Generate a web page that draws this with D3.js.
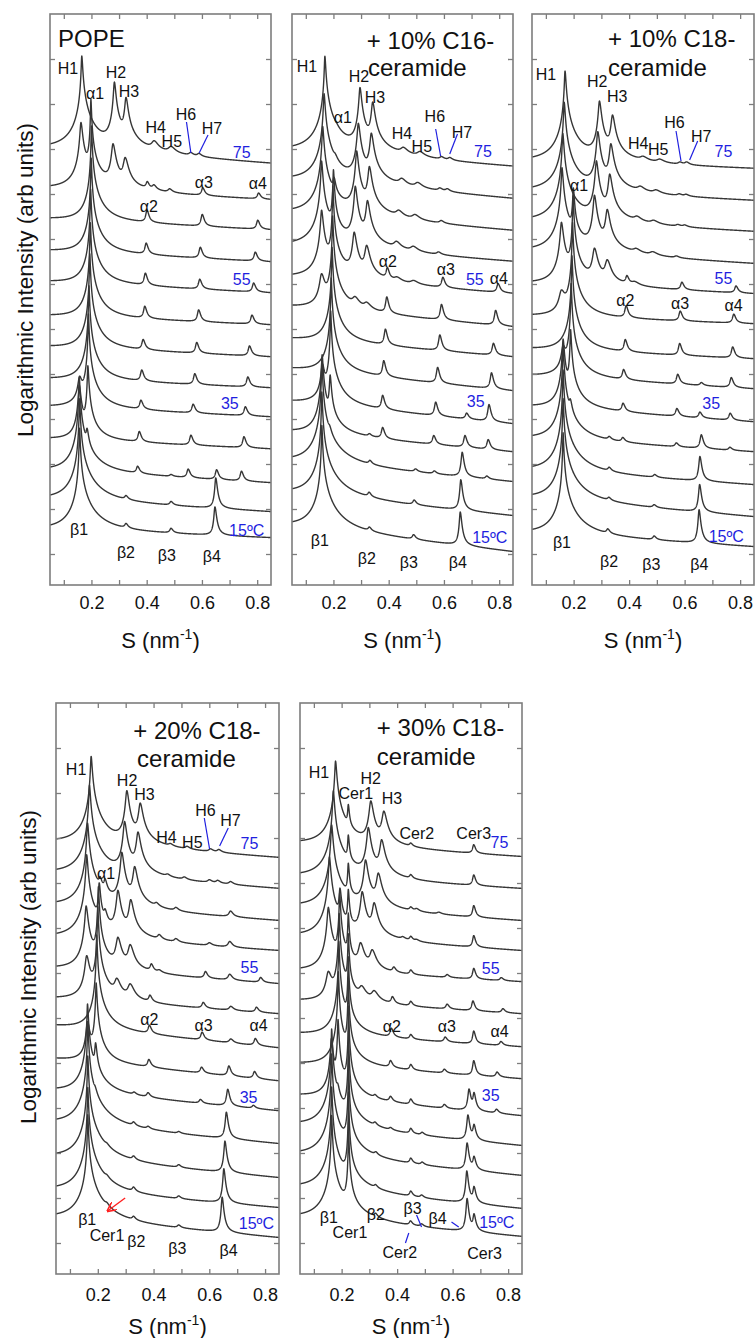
<!DOCTYPE html>
<html>
<head>
<meta charset="utf-8">
<script src="https://cdn.jsdelivr.net/npm/d3@7"></script>
<style>
  body { margin: 0; background: #fff; }
  svg text { font-family: "Liberation Sans", Arial, sans-serif; }
</style>
</head>
<body>
<svg id="fig" width="755" height="1338"></svg>
<script>
"use strict";

// ---- data ----
const temps = [75, 70, 65, 60, 55, 50, 45, 40, 35, 30, 25, 20, 15];
const sTicks = [0.1, 0.2, 0.3, 0.4, 0.5, 0.6, 0.7, 0.8];
const sTickLabels = [0.2, 0.4, 0.6, 0.8];
const yTicks = [3.1, 7.6, 12.1, 16.6, 21.1, 25.6, 30.1, 34.6, 39.1, 43.6, 48.1, 52.6];

// half widths (nm^-1) of each peak family
const peakWidths = {H: 0.012, a1: 0.007, a: 0.0055, b1: 0.009, b: 0.0055, c1: 0.0045, c: 0.005, m: 0.007};

// rows: [temperature, log level at S=0.05, log level at S=0.85, peaks [family, S, height]]
const popeRows = [
  [75, 43.5, 42.1, [["H",0.165,9.6],["H",0.283,7.2],["H",0.325,5.7],["H",0.427,1.2],["H",0.488,0.8],["m",0.559,0.35],["m",0.589,0.35]]],
  [70, 39.6, 38.5, [["H",0.162,6.8],["a1",0.198,9.2],["H",0.278,4.8],["H",0.322,3.4],["a",0.402,0.9],["m",0.426,0.6],["m",0.483,0.4],["a",0.603,0.8],["a",0.805,0.6]]],
  [65, 36.6, 35.5, [["a1",0.2,9.5],["a",0.401,1.3],["a",0.601,1.2],["a",0.802,0.9]]],
  [60, 33.4, 32.3, [["a1",0.199,9.5],["a",0.398,1.2],["a",0.594,1.1],["a",0.793,0.9]]],
  [55, 30.3, 29.2, [["a1",0.197,9.5],["a",0.395,1.3],["a",0.592,1.0],["a",0.787,0.9]]],
  [50, 26.9, 26.0, [["a1",0.196,9.5],["a",0.393,1.3],["a",0.588,1.2],["a",0.781,0.9]]],
  [45, 23.8, 22.8, [["a1",0.194,9.5],["a",0.387,1.1],["a",0.581,1.1],["a",0.772,1.0]]],
  [40, 20.6, 19.7, [["a1",0.191,9.5],["a",0.382,1.2],["a",0.574,1.1],["a",0.766,1.0]]],
  [35, 17.8, 16.8, [["b1",0.157,3.0],["a1",0.189,9.5],["a",0.379,1.0],["a",0.568,0.9],["a",0.757,0.9]]],
  [30, 14.6, 13.6, [["b1",0.156,5.5],["a1",0.187,7.5],["a",0.373,1.1],["a",0.56,1.0],["a",0.752,1.1]]],
  [25, 11.4, 10.2, [["b1",0.156,9.5],["a1",0.184,4.0],["a",0.367,0.8],["b",0.488,0.2],["a",0.55,0.9],["b",0.653,1.0],["a",0.743,1.0]]],
  [20, 8.5, 7.3, [["b1",0.157,10.3],["b",0.325,0.5],["b",0.488,0.4],["b",0.65,3.1]]],
  [15, 5.5, 4.7, [["b1",0.157,10.3],["b",0.325,0.6],["b",0.488,0.5],["b",0.647,2.9]]]
];

const c16Rows = [
  [75, 43.3, 41.8, [["H",0.169,9.8],["m",0.209,1.0],["H",0.296,6.9],["H",0.342,5.5],["H",0.453,0.8],["H",0.513,0.6],["m",0.591,0.3],["m",0.621,0.3]]],
  [70, 40.4, 38.6, [["H",0.166,9.0],["m",0.206,1.5],["H",0.29,6.3],["H",0.337,5.4],["H",0.447,0.8],["H",0.505,0.6],["m",0.585,0.3],["m",0.612,0.3]]],
  [65, 37.1, 35.4, [["H",0.161,9.0],["a1",0.202,3.5],["H",0.284,6.8],["H",0.33,5.3],["H",0.436,0.8],["H",0.495,0.6],["m",0.59,0.3]]],
  [60, 33.8, 32.3, [["H",0.157,8.8],["a1",0.2,8.0],["H",0.279,6.5],["H",0.323,5.1],["H",0.428,0.9],["H",0.489,0.6],["m",0.58,0.3]]],
  [55, 30.7, 29.1, [["H",0.157,7.0],["a1",0.198,9.5],["H",0.275,5.0],["H",0.32,3.7],["a",0.395,1.5],["H",0.43,0.5],["H",0.49,0.4],["a",0.596,1.1],["a",0.796,0.9]]],
  [50, 27.8, 25.8, [["H",0.157,3.5],["a1",0.197,9.5],["H",0.278,1.2],["H",0.32,0.8],["a",0.393,1.8],["a",0.591,1.6],["a",0.787,1.5]]],
  [45, 24.6, 22.8, [["a1",0.195,9.5],["a",0.388,1.7],["a",0.585,1.6],["a",0.779,1.2]]],
  [40, 21.6, 19.4, [["a1",0.192,9.5],["a",0.382,1.7],["a",0.577,1.6],["a",0.772,1.6]]],
  [35, 18.3, 16.1, [["b1",0.16,4.0],["a1",0.19,9.5],["a",0.378,1.5],["a",0.57,1.4],["b",0.682,0.6],["a",0.763,1.7]]],
  [30, 15.3, 13.3, [["b1",0.159,8.0],["a1",0.188,6.0],["b",0.33,0.3],["a",0.378,1.2],["a",0.563,0.9],["b",0.676,1.2],["a",0.76,1.0]]],
  [25, 12.3, 10.3, [["b1",0.158,10.5],["a1",0.186,2.5],["b",0.332,0.5],["b",0.497,0.3],["a",0.565,0.3],["b",0.666,2.5],["a",0.755,0.3]]],
  [20, 9.1, 6.9, [["b1",0.158,10.5],["b",0.329,0.6],["b",0.492,0.5],["b",0.661,3.1]]],
  [15, 5.8, 3.3, [["b1",0.158,10.5],["b",0.33,0.5],["b",0.49,0.5],["b",0.659,3.4]]]
];

const c18Rows = [
  [75, 42.3, 41.6, [["H",0.169,9.2],["H",0.293,6.3],["H",0.34,4.9],["H",0.45,0.5],["H",0.51,0.4],["m",0.583,0.25],["m",0.607,0.3]]],
  [70, 39.3, 38.4, [["H",0.166,9.1],["H",0.287,6.3],["H",0.334,5.1],["H",0.44,0.6],["H",0.497,0.4],["m",0.58,0.2],["m",0.605,0.2]]],
  [65, 36.3, 35.3, [["H",0.161,9.0],["H",0.282,6.4],["H",0.33,5.1],["H",0.428,0.6],["H",0.488,0.4],["m",0.575,0.2],["m",0.6,0.2]]],
  [60, 33.3, 32.1, [["H",0.158,8.6],["a1",0.199,6.6],["H",0.275,6.0],["H",0.321,4.6],["H",0.425,0.5],["H",0.485,0.4],["m",0.57,0.2]]],
  [55, 30.1, 29.1, [["H",0.156,6.3],["a1",0.198,9.0],["H",0.275,3.8],["H",0.321,2.6],["a",0.392,1.0],["H",0.42,0.4],["a",0.59,0.8],["a",0.785,0.7]]],
  [50, 26.9, 26.1, [["H",0.156,2.5],["a1",0.196,9.5],["a",0.389,1.3],["a",0.584,1.0],["a",0.777,0.9]]],
  [45, 23.6, 22.6, [["a1",0.194,9.5],["a",0.386,1.3],["a",0.582,1.2],["a",0.773,1.1]]],
  [40, 20.9, 19.6, [["b1",0.162,3.0],["a1",0.191,9.5],["a",0.38,1.1],["a",0.575,1.0],["b",0.66,0.3],["a",0.768,1.0]]],
  [35, 17.8, 16.3, [["b1",0.162,7.0],["a1",0.189,8.0],["a",0.378,0.9],["a",0.572,0.8],["b",0.655,0.6],["a",0.764,0.7]]],
  [30, 14.6, 13.3, [["b1",0.162,9.5],["a1",0.188,3.5],["b",0.328,0.4],["a",0.377,0.5],["a",0.57,0.4],["b",0.66,1.4],["a",0.763,0.3]]],
  [25, 11.4, 10.0, [["b1",0.162,10.3],["b",0.328,0.5],["b",0.492,0.3],["b",0.655,2.5]]],
  [20, 8.6, 6.8, [["b1",0.162,10.3],["b",0.327,0.4],["b",0.49,0.3],["b",0.654,2.8]]],
  [15, 5.1, 3.8, [["b1",0.162,10.3],["b",0.323,0.6],["b",0.49,0.4],["b",0.652,3.4]]]
];

const c18x20Rows = [
  [75, 43.1, 41.6, [["H",0.176,8.9],["H",0.304,5.7],["H",0.352,4.5],["m",0.46,0.3],["m",0.52,0.3],["m",0.604,0.3],["m",0.634,0.3]]],
  [70, 40.0, 38.5, [["H",0.17,9.1],["H",0.296,5.7],["H",0.344,4.7],["m",0.45,0.3],["m",0.51,0.3],["m",0.6,0.3],["m",0.63,0.3],["m",0.676,0.3]]],
  [65, 36.8, 35.3, [["H",0.163,8.5],["a1",0.208,2.5],["m",0.226,2.5],["H",0.286,5.8],["H",0.332,4.4],["m",0.41,0.5],["m",0.48,0.4],["m",0.676,0.6]]],
  [60, 33.6, 32.3, [["H",0.16,8.5],["a1",0.205,5.7],["m",0.226,2.5],["H",0.272,5.1],["H",0.318,4.2],["m",0.42,0.6],["m",0.48,0.4],["m",0.6,0.3],["m",0.673,0.6]]],
  [55, 30.5, 29.0, [["H",0.158,6.5],["a1",0.202,8.5],["H",0.272,3.5],["H",0.316,2.8],["a",0.392,0.9],["m",0.42,0.3],["a",0.586,0.7],["m",0.673,0.6],["a",0.784,0.5]]],
  [50, 27.5, 26.0, [["H",0.16,4.5],["a1",0.2,9.5],["H",0.268,2.2],["H",0.316,1.8],["a",0.387,0.8],["a",0.578,0.6],["m",0.677,0.4],["a",0.769,0.5]]],
  [45, 24.8, 22.6, [["a1",0.196,9.5],["a",0.385,0.9],["a",0.574,0.8],["m",0.677,0.4],["a",0.765,0.7]]],
  [40, 21.5, 19.3, [["b1",0.163,4.0],["a1",0.194,8.0],["a",0.383,0.8],["a",0.572,0.6],["b",0.67,1.0],["a",0.762,0.7]]],
  [35, 18.3, 16.3, [["b1",0.163,9.0],["a1",0.192,5.0],["b",0.33,0.3],["a",0.38,0.5],["a",0.568,0.4],["b",0.666,1.7],["a",0.758,0.3]]],
  [30, 15.0, 13.0, [["b1",0.164,10.5],["a1",0.19,2.5],["b",0.328,0.5],["a",0.38,0.3],["b",0.49,0.2],["b",0.661,2.7]]],
  [25, 11.6, 9.6, [["b1",0.164,10.5],["m",0.232,0.6],["b",0.328,0.5],["b",0.49,0.3],["b",0.656,3.2]]],
  [20, 8.3, 6.6, [["b1",0.164,10.6],["m",0.232,0.7],["b",0.328,0.6],["b",0.49,0.3],["b",0.652,3.5]]],
  [15, 5.5, 3.6, [["b1",0.164,10.7],["m",0.232,0.8],["b",0.328,0.5],["b",0.49,0.3],["b",0.646,3.6]]]
];

const c18x30Rows = [
  [75, 43.0, 41.7, [["H",0.178,8.5],["c1",0.224,4.0],["H",0.305,4.7],["H",0.352,3.7],["c",0.449,0.4],["c",0.676,0.9]]],
  [70, 39.7, 38.5, [["H",0.17,8.8],["c1",0.224,4.3],["H",0.296,5.3],["H",0.344,4.1],["c",0.449,0.5],["c",0.676,1.1]]],
  [65, 36.7, 35.3, [["H",0.164,8.4],["c1",0.224,4.6],["H",0.286,5.1],["H",0.332,3.8],["c",0.449,0.4],["m",0.47,0.3],["m",0.55,0.2],["c",0.676,1.2]]],
  [60, 33.7, 32.3, [["H",0.156,8.2],["a1",0.194,5.0],["c1",0.224,5.0],["H",0.274,4.9],["H",0.317,3.8],["m",0.42,0.3],["c",0.449,0.5],["m",0.47,0.2],["c",0.676,1.2]]],
  [55, 30.3, 29.2, [["H",0.152,6.5],["a1",0.193,8.0],["c1",0.224,6.0],["H",0.268,3.0],["H",0.31,2.3],["a",0.388,0.6],["c",0.449,0.5],["a",0.58,0.3],["c",0.676,1.1],["a",0.775,0.3]]],
  [50, 27.3, 26.0, [["H",0.152,3.0],["a1",0.191,9.0],["c1",0.224,7.0],["H",0.272,1.5],["H",0.317,1.2],["a",0.383,0.8],["c",0.449,0.5],["a",0.58,0.5],["c",0.673,1.0],["a",0.781,0.4]]],
  [45, 24.0, 22.7, [["a1",0.19,9.5],["c1",0.224,8.0],["a",0.379,1.0],["c",0.449,0.5],["a",0.573,0.5],["c",0.676,1.3],["a",0.774,0.4]]],
  [40, 21.0, 19.5, [["a1",0.188,9.5],["c1",0.224,9.0],["a",0.376,0.8],["c",0.449,0.6],["a",0.57,0.4],["c",0.676,1.5],["a",0.76,0.5]]],
  [35, 17.8, 15.8, [["b1",0.163,6.0],["a1",0.187,8.0],["c1",0.225,9.5],["b",0.32,0.4],["a",0.376,0.6],["c",0.449,0.6],["a",0.57,0.4],["b",0.659,2.2],["c",0.677,1.8],["a",0.758,0.4]]],
  [30, 14.8, 12.8, [["b1",0.164,10.0],["a1",0.186,3.5],["c1",0.225,10.0],["b",0.32,0.5],["a",0.376,0.3],["c",0.449,0.6],["b",0.49,0.3],["b",0.655,2.6],["c",0.677,1.6]]],
  [25, 11.8, 9.8, [["b1",0.164,10.5],["c1",0.225,10.2],["b",0.323,0.5],["c",0.449,0.6],["b",0.49,0.3],["b",0.652,2.8],["c",0.677,1.4]]],
  [20, 8.5, 6.5, [["b1",0.164,10.5],["c1",0.225,10.2],["b",0.322,0.5],["c",0.449,0.6],["b",0.488,0.3],["b",0.651,3.3],["c",0.677,1.7]]],
  [15, 5.5, 3.7, [["b1",0.164,10.6],["c1",0.225,10.2],["b",0.322,0.6],["c",0.448,0.5],["b",0.488,0.3],["b",0.652,3.4],["c",0.677,1.8]]]
];

// panel titles: [line, S, level]
const popeTitle = [["POPE", 0.079, 53.8]];
const c16Title = [["+ 10% C16-", 0.321, 53.6], ["ceramide", 0.325, 50.9]];
const c18Title = [["+ 10% C18-", 0.324, 53.8], ["ceramide", 0.324, 50.9]];
const c18x20Title = [["+ 20% C18-", 0.327, 53.5], ["ceramide", 0.341, 50.7]];
const c18x30Title = [["+ 30% C18-", 0.327, 53.8], ["ceramide", 0.327, 50.9]];

// annotations: [text, S, level, kind]  kind t = temperature
const popeLabels = [
  ["H1",0.115,51.7],["α1",0.213,49.2],["H2",0.289,51.25],["H3",0.336,49.4],["H4",0.433,45.8],["H5",0.491,44.4],
  ["H6",0.542,47.1],["H7",0.636,45.7],["75",0.744,43.3,"t"],["α3",0.607,40.3],["α4",0.802,40.2],["α2",0.408,37.9],
  ["55",0.744,30.6,"t"],["35",0.701,18.2,"t"],["15ºC",0.762,5.5,"t"],
  ["β1",0.155,5.6],["β2",0.325,3.3],["β3",0.473,3.0],["β4",0.636,2.9]
];
const c16Labels = [
  ["H1",0.104,51.9],["α1",0.234,46.8],["H2",0.292,50.85],["H3",0.35,48.8],["H4",0.448,45.2],["H5",0.52,43.9],
  ["H6",0.567,46.9],["H7",0.665,45.3],["75",0.741,43.4,"t"],["α2",0.397,32.4],["α3",0.607,31.6],["55",0.712,30.6,"t"],
  ["α4",0.799,30.7],["35",0.715,18.4,"t"],["15ºC",0.766,4.8,"t"],
  ["β1",0.151,4.5],["β2",0.321,2.7],["β3",0.473,2.3],["β4",0.65,2.3]
];
const c18Labels = [
  ["H1",0.1,51.1],["H2",0.285,50.4],["H3",0.357,48.9],["H4",0.433,44.2],["H5",0.505,43.6],["H6",0.563,46.3],
  ["H7",0.66,44.9],["75",0.74,43.4,"t"],["α1",0.22,40.0],["55",0.74,30.7,"t"],["α2",0.386,28.5],["α3",0.584,28.2],
  ["α4",0.776,28.0],["35",0.696,18.2,"t"],["β1",0.158,4.3],["β2",0.328,2.4],["β3",0.48,2.1],["β4",0.653,2.1],
  ["15ºC",0.75,4.9,"t"]
];
const c18x20Labels = [
  ["H1",0.122,50.5],["H2",0.305,49.4],["H3",0.367,48.0],["H4",0.446,43.7],["H5",0.539,43.2],["H6",0.586,46.4],
  ["H7",0.676,45.4],["75",0.744,43.1,"t"],["α1",0.23,40.1],["55",0.744,30.7,"t"],["α2",0.385,25.5],["α3",0.579,24.9],
  ["α4",0.777,24.9],["35",0.741,17.7,"t"],["β1",0.162,5.5],["Cer1",0.233,3.9],["β2",0.338,3.3],["β3",0.485,2.6],
  ["β4",0.669,2.4],["15ºC",0.769,5.1,"t"]
];
const c18x30Labels = [
  ["H1",0.118,50.2],["Cer1",0.251,48.1],["H2",0.305,49.6],["H3",0.381,47.6],["Cer2",0.471,44.1],["Cer3",0.676,44.1],
  ["75",0.769,43.2,"t"],["55",0.737,30.6,"t"],["α2",0.381,24.8],["α3",0.579,24.8],["α4",0.769,24.3],["35",0.737,17.9,"t"],
  ["β1",0.154,5.7],["Cer1",0.23,4.2],["β2",0.323,6.0],["β3",0.456,6.6],["β4",0.546,5.6],["15ºC",0.759,5.2,"t"],
  ["Cer2",0.41,2.2],["Cer3",0.715,2.1]
];

// blue leader lines: [S1, level1, S2, level2]
const popeLeaders = [[0.544,46.3,0.56,43.2],[0.622,45.0,0.59,43.2]];
const c16Leaders = [[0.570,45.6,0.588,42.9],[0.649,45.1,0.621,43.1]];
const c18Leaders = [[0.569,45.4,0.587,42.4],[0.647,44.4,0.618,42.5]];
const c18x20Leaders = [[0.582,45.6,0.601,42.5],[0.668,44.6,0.637,42.8]];
const c18x30Leaders = [[0.442,4.1,0.43,3.1],[0.47,5.9,0.488,4.7],[0.596,5.2,0.622,4.7]];
const c18x20Arrow = [0.298, 7.6, 0.235, 6.3];

// ---- layout ----
const panelH = 571;
const layout = [
  {x: 50, y: 14, w: 221, pad: 11},
  {x: 292, y: 14, w: 221, pad: 11},
  {x: 532, y: 14, w: 222, pad: 11},
  {x: 56, y: 703, w: 223, pad: 14},
  {x: 300, y: 703, w: 222, pad: 14}
];
const panels = [
  {rows: popeRows, title: popeTitle, labels: popeLabels, leaders: popeLeaders},
  {rows: c16Rows, title: c16Title, labels: c16Labels, leaders: c16Leaders},
  {rows: c18Rows, title: c18Title, labels: c18Labels, leaders: c18Leaders},
  {rows: c18x20Rows, title: c18x20Title, labels: c18x20Labels, leaders: c18x20Leaders, arrow: c18x20Arrow},
  {rows: c18x30Rows, title: c18x30Title, labels: c18x30Labels, leaders: c18x30Leaders}
];

const K = 1.2;          // log units per e-fold of intensity
const rightTail = 1.6;  // peaks tail off more slowly on the high-S side
const sGrid = d3.range(0.05, 0.85001, 0.0004);

function prepPeaks(peaks) {
  return peaks.map(([fam, s, h]) => {
    const a = Math.exp(h / K) - 1;
    const uh = Math.sqrt(a / (Math.sqrt(1 + a) - 1) - 1);
    return {s: s, a: a, w: peakWidths[fam] / uh};
  });
}

function profile(row) {
  const [T, left, right, peaks] = row;
  const pk = prepPeaks(peaks);
  return sGrid.map(s => {
    let sum = 0;
    for (const p of pk) {
      const w = s < p.s ? p.w : p.w * rightTail;
      const u = (s - p.s) / w;
      sum += p.a / (1 + u * u);
    }
    return [s, left + (right - left) * (s - 0.05) / 0.8 + K * Math.log(1 + sum)];
  });
}

const svg = d3.select("#fig");
const frameColor = "#7d7d7d";
const blue = "#1f1fe0";

svg.append("defs").append("marker")
  .attr("id", "redhead")
  .attr("viewBox", "0 0 10 10")
  .attr("refX", 9).attr("refY", 5)
  .attr("markerWidth", 7).attr("markerHeight", 7)
  .attr("orient", "auto")
  .append("path")
  .attr("d", "M0,0 L10,5 L0,10")
  .attr("fill", "none")
  .attr("stroke", "#ff2020")
  .attr("stroke-width", 1.6);

panels.forEach((p, i) => {
  const box = layout[i];
  const g = svg.append("g").attr("transform", `translate(${box.x},${box.y})`);
  const x = d3.scaleLinear().domain([0.05, 0.85]).range([0, box.w]);
  const y = d3.scaleLinear().domain([0, 57.1]).range([panelH, 0]);

  g.append("clipPath").attr("id", "clip" + i)
    .append("rect").attr("width", box.w).attr("height", panelH);

  const line = d3.line().x(d => x(d[0])).y(d => y(d[1]));

  g.append("g").attr("clip-path", `url(#clip${i})`)
    .selectAll("path")
    .data(p.rows)
    .enter()
    .append("path")
    .attr("d", d => line(profile(d)))
    .attr("fill", "none")
    .attr("stroke", "#363636")
    .attr("stroke-width", 1.4)
    .attr("stroke-linejoin", "round");

  // axes with inward ticks on all sides
  const styleAxis = sel => {
    sel.select(".domain").remove();
    sel.selectAll("line").attr("stroke", frameColor).attr("stroke-width", 1.3);
  };
  g.append("g").attr("transform", `translate(0,${panelH})`)
    .call(d3.axisBottom(x).tickValues(sTicks).tickSizeInner(-5).tickSizeOuter(0).tickPadding(box.pad)
      .tickFormat(d => sTickLabels.some(v => Math.abs(v - d) < 1e-9) ? d3.format(".1f")(d) : ""))
    .call(styleAxis)
    .selectAll("text").attr("font-size", 18).attr("fill", "#111")
    .style("font-family", "Liberation Sans, Arial, sans-serif");
  g.append("g")
    .call(d3.axisTop(x).tickValues(sTicks).tickSizeInner(-5).tickSizeOuter(0).tickFormat(""))
    .call(styleAxis);
  g.append("g")
    .call(d3.axisLeft(y).tickValues(yTicks).tickSizeInner(-5).tickSizeOuter(0).tickFormat(""))
    .call(styleAxis);
  g.append("g").attr("transform", `translate(${box.w},0)`)
    .call(d3.axisRight(y).tickValues(yTicks).tickSizeInner(-5).tickSizeOuter(0).tickFormat(""))
    .call(styleAxis);

  g.append("rect")
    .attr("width", box.w).attr("height", panelH)
    .attr("fill", "none").attr("stroke", frameColor).attr("stroke-width", 1.6);

  // title
  g.selectAll("text.title")
    .data(p.title)
    .enter().append("text")
    .attr("class", "title")
    .attr("x", d => x(d[1]))
    .attr("y", d => y(d[2]))
    .attr("font-size", 24)
    .attr("fill", "#111")
    .text(d => d[0]);

  // peak and temperature labels
  g.selectAll("text.lab")
    .data(p.labels)
    .enter().append("text")
    .attr("class", "lab")
    .attr("x", d => x(d[1]))
    .attr("y", d => y(d[2]))
    .attr("text-anchor", "middle")
    .attr("dominant-baseline", "central")
    .attr("font-size", 16)
    .attr("fill", d => d[3] === "t" ? blue : "#111")
    .text(d => d[0]);

  g.selectAll("line.lead")
    .data(p.leaders)
    .enter().append("line")
    .attr("class", "lead")
    .attr("x1", d => x(d[0])).attr("y1", d => y(d[1]))
    .attr("x2", d => x(d[2])).attr("y2", d => y(d[3]))
    .attr("stroke", blue).attr("stroke-width", 1.2);

  if (p.arrow) {
    g.append("line")
      .attr("x1", x(p.arrow[0])).attr("y1", y(p.arrow[1]))
      .attr("x2", x(p.arrow[2])).attr("y2", y(p.arrow[3]))
      .attr("stroke", "#ff2020").attr("stroke-width", 1.4)
      .attr("marker-end", "url(#redhead)");
  }

  // x axis title
  const xt = g.append("text")
    .attr("x", box.w / 2)
    .attr("y", panelH + (i < 3 ? 63 : 60))
    .attr("text-anchor", "middle")
    .attr("font-size", 22)
    .attr("fill", "#111");
  xt.append("tspan").text("S (nm");
  xt.append("tspan").attr("font-size", 14).attr("dy", -9).text("-1");
  xt.append("tspan").attr("dy", 9).text(")");
});

// y axis titles
[{x: 25, y: 280}, {x: 28, y: 967}].forEach(pos => {
  svg.append("text")
    .attr("transform", `translate(${pos.x},${pos.y}) rotate(-90)`)
    .attr("text-anchor", "middle")
    .attr("dominant-baseline", "central")
    .attr("font-size", 22.5)
    .attr("fill", "#111")
    .text("Logarithmic Intensity (arb units)");
});
</script>
</body>
</html>
